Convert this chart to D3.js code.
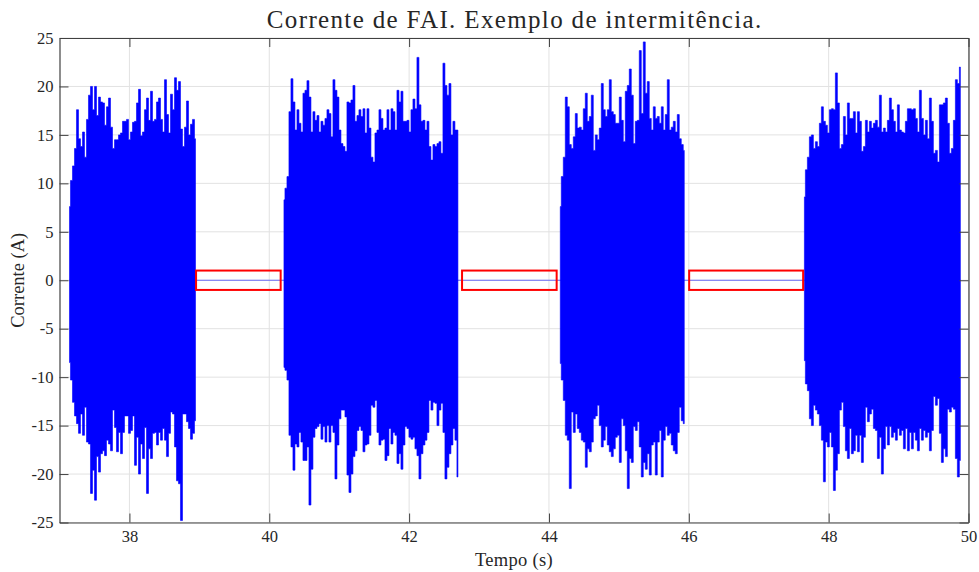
<!DOCTYPE html>
<html>
<head>
<meta charset="utf-8">
<script src="https://cdn.jsdelivr.net/npm/d3@7"></script>
<style>
  body { margin: 0; background: #fff; }
  text { font-family: "Liberation Serif", "DejaVu Serif", serif; fill: #262626; }
</style>
</head>
<body>
<svg id="chart" width="979" height="572"></svg>
<script>
// Fault current (FAI) with intermittent arcing: per-sample peak envelope of each burst.
const sampleStep = 0.0286;                      // seconds between envelope samples
const burstStart = [37.143, 40.210, 44.162, 47.653];

const burst1Top = [7.6,10.3,11.8,13.6,17.6,14.6,13.8,15.3,12.7,16.6,19.1,20.0,17.6,20.0,17.0,18.9,18.4,18.3,16.0,17.9,18.8,15.8,13.6,14.5,14.5,15.0,15.2,16.4,16.4,16.6,14.5,15.3,16.3,16.4,18.3,19.7,14.9,15.3,17.6,18.8,16.5,19.5,16.4,16.6,18.4,18.8,16.6,15.3,20.7,17.1,15.2,19.2,17.6,20.9,19.6,20.5,15.6,13.8,15.8,18.5,15.0,16.1,16.6,14.6];
const burst1Bot = [-8.5,-10.3,-12.6,-14.0,-14.8,-15.8,-13.8,-16.0,-13.1,-16.7,-16.9,-22.0,-19.6,-22.7,-18.2,-19.8,-17.9,-17.6,-18.1,-16.5,-16.9,-17.6,-13.4,-15.2,-17.7,-15.7,-17.9,-15.7,-14.0,-14.0,-15.8,-15.5,-14.0,-19.1,-16.2,-20.0,-16.9,-18.4,-15.2,-22.0,-17.4,-18.4,-15.8,-15.7,-17.0,-15.7,-16.5,-15.3,-16.5,-18.2,-15.8,-13.6,-13.8,-17.2,-20.7,-21.0,-24.8,-13.8,-13.8,-14.6,-15.3,-16.4,-15.8,-14.5];

const burst2Top = [8.3,9.5,10.7,17.4,20.8,18.4,15.5,17.6,16.2,15.3,19.3,19.6,20.6,18.9,15.3,17.4,16.5,17.0,15.3,16.4,16.0,16.7,17.6,17.2,14.8,20.7,19.6,18.9,15.5,14.1,13.8,13.3,18.4,18.3,18.6,20.1,16.4,17.0,17.6,16.9,17.7,15.2,17.7,15.7,12.7,12.2,15.2,15.5,17.6,16.7,15.5,15.7,17.6,15.5,17.7,17.4,15.5,19.6,18.4,19.5,16.4,16.4,16.5,15.3,17.6,18.7,17.7,23.0,18.1,16.4,16.5,15.5,16.4,13.8,12.4,14.0,13.8,14.1,14.3,13.1,22.4,20.1,19.1,20.3,15.0,16.4,15.5,15.5];
const burst2Bot = [-9.0,-9.3,-10.3,-16.0,-17.2,-19.6,-16.9,-17.2,-15.7,-16.7,-18.6,-18.6,-17.2,-23.2,-19.5,-16.2,-15.3,-15.1,-14.8,-16.4,-15.1,-16.7,-15.0,-16.7,-15.0,-15.7,-20.5,-17.0,-14.3,-13.4,-13.4,-14.1,-20.1,-21.9,-20.0,-18.2,-17.6,-15.5,-15.1,-15.5,-17.7,-17.0,-16.9,-16.0,-12.9,-13.1,-12.4,-15.7,-17.0,-16.5,-16.4,-18.6,-18.1,-15.3,-16.9,-15.7,-16.0,-18.9,-17.9,-19.5,-17.0,-15.1,-15.3,-16.2,-16.4,-16.2,-17.4,-18.1,-20.5,-17.9,-17.0,-16.5,-15.7,-12.4,-13.4,-12.6,-12.7,-15.0,-13.4,-12.7,-15.7,-20.5,-19.3,-17.9,-17.0,-15.3,-16.5,-20.3];

const burst3Top = [7.6,10.7,12.7,18.9,17.9,14.0,13.6,14.8,17.2,15.7,15.8,15.5,17.7,19.3,16.4,16.9,19.1,13.4,15.0,14.5,15.7,20.3,17.6,16.9,17.6,20.7,17.4,17.1,16.2,16.2,18.9,16.5,14.3,19.5,20.1,21.8,19.1,14.1,16.4,16.5,23.7,17.2,24.6,19.3,20.5,16.7,15.5,17.9,16.7,16.9,16.2,17.9,15.5,17.1,20.7,15.5,15.8,16.4,15.3,17.1,14.6,14.0,13.4];
const burst3Bot = [-8.6,-10.3,-12.4,-16.0,-16.5,-21.5,-13.6,-15.7,-13.8,-15.3,-15.7,-16.5,-16.7,-19.3,-17.4,-17.7,-16.7,-14.3,-14.0,-12.9,-15.0,-17.2,-16.5,-15.1,-17.0,-17.7,-18.2,-17.4,-16.2,-16.0,-18.8,-14.3,-15.0,-17.6,-21.5,-18.4,-18.8,-15.1,-15.5,-14.6,-17.2,-20.3,-18.8,-19.5,-17.9,-20.1,-17.0,-16.7,-20.1,-16.7,-15.5,-20.3,-16.5,-15.1,-16.0,-15.8,-17.0,-17.6,-17.9,-15.7,-13.1,-14.5,-14.8];

const burst4Top = [8.6,11.4,12.7,14.8,15.0,13.6,14.3,13.8,16.2,17.9,16.4,16.0,15.2,17.6,17.7,17.6,21.4,18.3,13.6,14.0,16.9,15.0,18.3,16.7,16.7,17.4,15.2,17.4,16.4,13.3,13.8,16.5,15.3,16.4,15.7,16.2,16.5,15.8,19.1,15.3,15.7,15.3,16.5,18.8,17.6,16.4,15.3,18.1,15.5,15.3,15.2,16.4,17.7,17.7,17.6,17.7,16.7,15.3,19.6,16.7,15.0,16.5,14.6,18.8,16.4,13.1,13.4,12.2,18.1,18.1,18.3,18.8,16.2,13.1,13.6,16.5,20.7,20.3,22.0];
const burst4Bot = [-8.3,-10.7,-11.4,-14.3,-15.0,-12.9,-13.4,-13.8,-15.0,-16.5,-20.8,-16.7,-17.2,-15.7,-17.2,-21.7,-19.6,-17.9,-13.4,-12.6,-15.1,-17.6,-18.4,-15.3,-17.9,-17.6,-16.0,-17.7,-16.0,-18.8,-16.2,-13.1,-14.6,-13.8,-13.3,-15.3,-15.5,-18.4,-16.2,-20.0,-17.4,-15.1,-17.0,-15.1,-16.2,-15.7,-16.5,-15.3,-16.0,-15.5,-17.4,-15.3,-17.6,-15.7,-17.4,-15.7,-16.5,-17.6,-15.3,-16.5,-15.5,-16.2,-15.7,-17.6,-15.5,-12.0,-12.9,-12.2,-15.8,-18.8,-17.4,-18.2,-13.3,-13.6,-13.1,-13.3,-18.4,-20.3,-18.6];

const burstTops = [burst1Top, burst2Top, burst3Top, burst4Top];
const burstBots = [burst1Bot, burst2Bot, burst3Bot, burst4Bot];

// Intervals without arcing, highlighted with a ±1 A box
const quietStart = [38.953, 42.757, 46.005];
const quietEnd   = [40.163, 44.110, 47.635];
const quietBand  = 1;

const xTicks = [38, 40, 42, 44, 46, 48, 50];
const yTicks = [-25, -20, -15, -10, -5, 0, 5, 10, 15, 20, 25];

const titleText = "Corrente de FAI. Exemplo de intermitência.";
const xLabel = "Tempo (s)";
const yLabel = "Corrente (A)";

const svg = d3.select("#chart");
const plotLeft = 59.5, plotRight = 968.5, plotTop = 38, plotBottom = 522.5;
const x = d3.scaleLinear().domain([37, 50]).range([plotLeft, plotRight]);
const y = d3.scaleLinear().domain([-25, 25]).range([plotBottom, plotTop]);

// grid
const grid = svg.append("g").attr("stroke", "#e2e2e2").attr("stroke-width", 1);
grid.selectAll("line.gx").data(xTicks).join("line").attr("class", "gx")
  .attr("x1", d => x(d)).attr("x2", d => x(d)).attr("y1", plotTop).attr("y2", plotBottom);
grid.selectAll("line.gy").data(yTicks).join("line").attr("class", "gy")
  .attr("x1", plotLeft).attr("x2", plotRight).attr("y1", d => y(d)).attr("y2", d => y(d));

const plot = svg.append("g");

// flat signal between bursts
const lastIdx = burstStart.length - 1;
plot.append("line")
  .attr("x1", x(burstStart[0]))
  .attr("x2", x(burstStart[lastIdx] + (burstTops[lastIdx].length - 1) * sampleStep))
  .attr("y1", y(0)).attr("y2", y(0))
  .attr("stroke", "#0000ff").attr("stroke-opacity", 0.55).attr("stroke-width", 1);

// bursts
const area = d3.area()
  .curve(d3.curveStep)
  .x(d => x(d.t)).y0(d => y(d.lo)).y1(d => y(d.hi));
burstStart.forEach((t0, i) => {
  const pts = burstTops[i].map((v, k) => ({ t: t0 + k * sampleStep, hi: v, lo: burstBots[i][k] }));
  plot.append("path").attr("d", area(pts))
    .attr("fill", "#0000ff").attr("stroke", "#0000ff").attr("stroke-width", 0.6);
});

// quiet-interval boxes
plot.selectAll("rect.quiet").data(quietStart).join("rect").attr("class", "quiet")
  .attr("x", d => x(d)).attr("width", (d, i) => x(quietEnd[i]) - x(d))
  .attr("y", y(quietBand)).attr("height", y(-quietBand) - y(quietBand))
  .attr("fill", "none").attr("stroke", "#ff0000").attr("stroke-width", 2);

// axes (box with inward ticks)
const tickLen = 9;
const fmt = d => String(d);
function styleAxis(g) {
  g.attr("font-family", null).attr("font-size", null);
  g.select(".domain").attr("stroke", "#404040").attr("stroke-width", 1.2);
  g.selectAll(".tick line").attr("stroke", "#404040").attr("stroke-width", 1);
  g.selectAll(".tick text").attr("fill", "#262626")
    .style("font-family", '"Liberation Serif", serif').style("font-size", "16.5px");
}
svg.append("g").attr("transform", `translate(0,${plotBottom})`)
  .call(d3.axisBottom(x).tickValues(xTicks).tickFormat(fmt).tickSizeInner(-tickLen).tickSizeOuter(0).tickPadding(8))
  .call(styleAxis);
svg.append("g").attr("transform", `translate(0,${plotTop})`)
  .call(d3.axisTop(x).tickValues(xTicks).tickFormat("").tickSizeInner(-tickLen).tickSizeOuter(0))
  .call(styleAxis);
svg.append("g").attr("transform", `translate(${plotLeft},0)`)
  .call(d3.axisLeft(y).tickValues(yTicks).tickFormat(fmt).tickSizeInner(-tickLen).tickSizeOuter(0).tickPadding(6))
  .call(styleAxis);
svg.append("g").attr("transform", `translate(${plotRight},0)`)
  .call(d3.axisRight(y).tickValues(yTicks).tickFormat("").tickSizeInner(-tickLen).tickSizeOuter(0))
  .call(styleAxis);

// labels
svg.append("text").attr("x", (plotLeft + plotRight) / 2 + 0.7).attr("y", 28)
  .attr("text-anchor", "middle").style("font-size", "25px").style("letter-spacing", "1.35px")
  .text(titleText);
svg.append("text").attr("x", (plotLeft + plotRight) / 2).attr("y", 566)
  .attr("text-anchor", "middle").style("font-size", "18.5px").style("letter-spacing", "0.3px")
  .text(xLabel);
svg.append("text").attr("transform", `translate(24,${(plotTop + plotBottom) / 2}) rotate(-90)`)
  .attr("text-anchor", "middle").style("font-size", "18.5px").text(yLabel);
</script>
</body>
</html>
